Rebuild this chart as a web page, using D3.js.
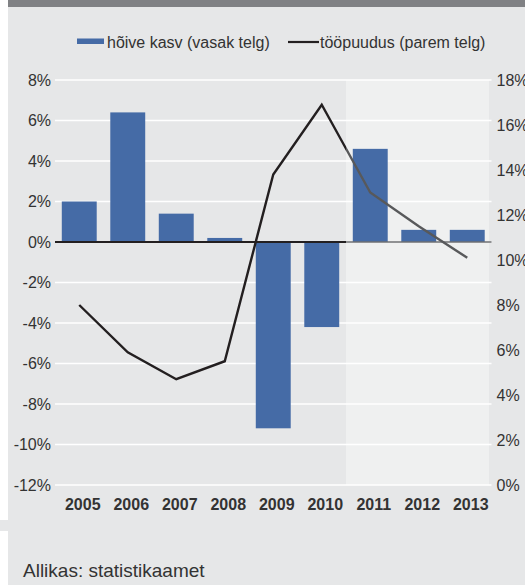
<!DOCTYPE html>
<html>
<head>
<meta charset="utf-8">
<script src="https://cdn.jsdelivr.net/npm/d3@7"></script>
<style>
  body { margin: 0; background: #fff; }
  svg text { font-family: "Liberation Sans", Arial, sans-serif; fill: #333; }
</style>
</head>
<body>
<div id="chart"></div>
<script>
var years = ["2005", "2006", "2007", "2008", "2009", "2010", "2011", "2012", "2013"];
var employmentGrowth = [2.0, 6.4, 1.4, 0.2, -9.2, -4.2, 4.6, 0.6, 0.6];
var unemployment = [8.0, 5.9, 4.7, 5.5, 13.8, 16.9, 13.0, 11.5, 10.1];
var leftTicks = [8, 6, 4, 2, 0, -2, -4, -6, -8, -10, -12];
var rightTicks = [18, 16, 14, 12, 10, 8, 6, 4, 2, 0];
var forecastFrom = "2011";
var legendLabels = ["hõive kasv (vasak telg)", "tööpuudus (parem telg)"];
var sourceText = "Allikas: statistikaamet";

var svgWidth = 525;
var svgHeight = 585;

var plot = { left: 55, right: 491.5, top: 80, bottom: 485 };

var svg = d3.select("#chart")
  .append("svg")
  .attr("width", svgWidth)
  .attr("height", svgHeight);

// background panel + top bar
svg.append("rect").attr("x", 8).attr("y", 0).attr("width", svgWidth - 8).attr("height", svgHeight).attr("fill", "#e6e7e8");
svg.append("rect").attr("x", 0).attr("y", 520).attr("width", 8).attr("height", 11).attr("fill", "#e6e7e8");
svg.append("rect").attr("x", 8).attr("y", 0).attr("width", svgWidth - 8).attr("height", 7).attr("fill", "#808184");

var x = d3.scaleBand()
  .domain(years)
  .range([plot.left, plot.right])
  .paddingInner(0.28)
  .paddingOuter(0.14);

var yLeft = d3.scaleLinear().domain([-12, 8]).range([plot.bottom, plot.top]);
var yRight = d3.scaleLinear().domain([0, 18]).range([plot.bottom, plot.top]);

var cx = function(d) { return x(d) + x.bandwidth() / 2; };
var splitX = (cx(years[years.indexOf(forecastFrom) - 1]) + cx(forecastFrom)) / 2;

// forecast shading
svg.append("rect")
  .attr("x", splitX)
  .attr("y", plot.top)
  .attr("width", 489 - splitX)
  .attr("height", plot.bottom - plot.top)
  .attr("fill", "#eff0f0");

// gridlines
svg.append("g").selectAll("line")
  .data(leftTicks)
  .enter().append("line")
  .attr("x1", plot.left)
  .attr("x2", plot.right)
  .attr("y1", d => yLeft(d))
  .attr("y2", d => yLeft(d))
  .attr("stroke", "#fff")
  .attr("stroke-width", 1.6);

// left axis
var leftAxis = svg.append("g")
  .attr("transform", `translate(${plot.left - 4}, 0)`)
  .call(d3.axisLeft(yLeft).tickValues(leftTicks).tickSize(0).tickPadding(0).tickFormat(d => d + "%"));
leftAxis.select(".domain").remove();
leftAxis.selectAll("text").style("font-size", "16px").attr("fill", "#333");

// right axis
var rightAxis = svg.append("g")
  .attr("transform", `translate(${plot.right + 5}, 0)`)
  .call(d3.axisRight(yRight).tickValues(rightTicks).tickSize(0).tickPadding(0).tickFormat(d => d + "%"));
rightAxis.select(".domain").remove();
rightAxis.selectAll("text").style("font-size", "16px").attr("fill", "#333");

// bars
svg.append("g").selectAll("rect")
  .data(years)
  .enter().append("rect")
  .attr("x", d => x(d))
  .attr("width", x.bandwidth())
  .attr("y", (d, i) => yLeft(Math.max(0, employmentGrowth[i])))
  .attr("height", (d, i) => Math.abs(yLeft(employmentGrowth[i]) - yLeft(0)))
  .attr("fill", "#456ba6");

// clip paths for actual / forecast parts
var defs = svg.append("defs");
defs.append("clipPath").attr("id", "actual")
  .append("rect").attr("x", 0).attr("y", 0).attr("width", splitX).attr("height", svgHeight);
defs.append("clipPath").attr("id", "forecast")
  .append("rect").attr("x", splitX).attr("y", 0).attr("width", svgWidth - splitX).attr("height", svgHeight);

// zero line
svg.append("line")
  .attr("x1", plot.left).attr("x2", plot.right)
  .attr("y1", yLeft(0)).attr("y2", yLeft(0))
  .attr("stroke", "#231f20").attr("stroke-width", 2.2)
  .attr("clip-path", "url(#actual)");
svg.append("line")
  .attr("x1", plot.left).attr("x2", plot.right)
  .attr("y1", yLeft(0)).attr("y2", yLeft(0))
  .attr("stroke", "#6d6e71").attr("stroke-width", 1.6)
  .attr("clip-path", "url(#forecast)");

// unemployment line
var line = d3.line()
  .x((d, i) => cx(years[i]))
  .y(d => yRight(d));

svg.append("path")
  .datum(unemployment)
  .attr("d", line)
  .attr("fill", "none")
  .attr("stroke", "#231f20")
  .attr("stroke-width", 2.4)
  .attr("clip-path", "url(#actual)");
svg.append("path")
  .datum(unemployment)
  .attr("d", line)
  .attr("fill", "none")
  .attr("stroke", "#58595b")
  .attr("stroke-width", 2.4)
  .attr("clip-path", "url(#forecast)");

// year labels
svg.append("g").selectAll("text")
  .data(years)
  .enter().append("text")
  .attr("x", d => cx(d) + 3.5)
  .attr("y", 510)
  .attr("text-anchor", "middle")
  .style("font-size", "16px")
  .style("font-weight", "bold")
  .attr("fill", "#231f20")
  .text(d => d);

// legend
var legend = svg.append("g");
legend.append("rect")
  .attr("x", 77).attr("y", 38.5).attr("width", 27).attr("height", 5.5)
  .attr("fill", "#456ba6");
legend.append("text")
  .attr("x", 107).attr("y", 47.5)
  .style("font-size", "16px")
  .text(legendLabels[0]);
legend.append("line")
  .attr("x1", 288).attr("x2", 319).attr("y1", 42).attr("y2", 42)
  .attr("stroke", "#231f20").attr("stroke-width", 2.2);
legend.append("text")
  .attr("x", 320).attr("y", 47.5)
  .style("font-size", "16px")
  .text(legendLabels[1]);

// source
svg.append("text")
  .attr("x", 23).attr("y", 577)
  .style("font-size", "19px")
  .text(sourceText);
</script>
</body>
</html>
